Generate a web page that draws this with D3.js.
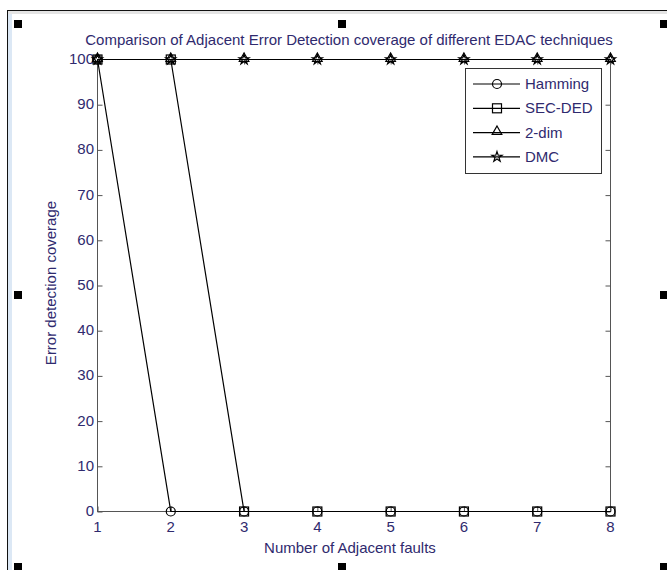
<!DOCTYPE html>
<html>
<head>
<meta charset="utf-8">
<script src="https://cdn.jsdelivr.net/npm/d3@7"></script>
<style>
  body { margin: 0; background: #fff; }
  svg { display: block; font-family: "Liberation Sans", Arial, sans-serif; }
</style>
</head>
<body>
<svg id="chart"></svg>
<script>
// data
var faults = [1, 2, 3, 4, 5, 6, 7, 8];
var hamming = [100, 0, 0, 0, 0, 0, 0, 0];
var secded = [100, 100, 0, 0, 0, 0, 0, 0];
var twoDim = [100, 100, 100, 100, 100, 100, 100, 100];
var dmc = [100, 100, 100, 100, 100, 100, 100, 100];
var seriesNames = ["Hamming", "SEC-DED", "2-dim", "DMC"];
var yTicks = [0, 10, 20, 30, 40, 50, 60, 70, 80, 90, 100];

var W = 667, H = 570;
var textColor = "#2f2a6e";
var fs = 15;
var svg = d3.select("#chart").attr("width", W).attr("height", H);

// window-ish frame around the figure
svg.append("rect").attr("x", 8).attr("y", 11).attr("width", 4).attr("height", H).attr("fill", "#dce8f5");
svg.append("rect").attr("x", 8).attr("y", 11).attr("width", W).attr("height", 3).attr("fill", "#e4e4e4");
svg.append("line").attr("x1", 7.5).attr("x2", 7.5).attr("y1", 10).attr("y2", H).attr("stroke", "#111");
svg.append("line").attr("x1", 7).attr("x2", W).attr("y1", 10.5).attr("y2", 10.5).attr("stroke", "#111");

// selection handles
[[14, 20], [338, 20], [660, 20], [14, 291], [660, 291], [14, 563], [338, 563], [660, 563]].forEach(function(p) {
  svg.append("rect").attr("x", p[0]).attr("y", p[1]).attr("width", 8).attr("height", 8).attr("fill", "#000");
});

var x = d3.scaleLinear().domain([1, 8]).range([97, 610]);
var y = d3.scaleLinear().domain([0, 100]).range([511, 59]);

var g = svg.append("g");

// axes box
g.append("rect")
  .attr("x", x(1) + 0.5).attr("y", y(100) + 0.5)
  .attr("width", x(8) - x(1)).attr("height", y(0) - y(100))
  .attr("fill", "none").attr("stroke", "#555");

var yAxis = g.append("g")
  .attr("transform", "translate(" + (x(1) + 0.5) + ",0.5)")
  .call(d3.axisRight(y).tickValues(yTicks).tickSize(5).tickFormat(""));
var yAxisR = g.append("g")
  .attr("transform", "translate(" + (x(8) + 0.5) + ",0.5)")
  .call(d3.axisLeft(y).tickValues(yTicks).tickSize(5).tickFormat(""));
var xAxis = g.append("g")
  .attr("transform", "translate(0.5," + (y(0) + 0.5) + ")")
  .call(d3.axisTop(x).tickValues(faults).tickSize(5).tickFormat(""));
var xAxisT = g.append("g")
  .attr("transform", "translate(0.5," + (y(100) + 0.5) + ")")
  .call(d3.axisBottom(x).tickValues(faults).tickSize(5).tickFormat(""));
[yAxis, yAxisR, xAxis, xAxisT].forEach(function(a) {
  a.select(".domain").remove();
  a.selectAll("line").attr("stroke", "#555");
});

// tick labels
g.append("g").selectAll("text")
  .data(yTicks)
  .join("text")
    .attr("x", x(1) - 3)
    .attr("y", d => y(d) + 5)
    .attr("text-anchor", "end")
    .attr("font-size", fs)
    .attr("fill", textColor)
    .text(d => d);
g.append("g").selectAll("text")
  .data(faults)
  .join("text")
    .attr("x", d => x(d) + 0.5)
    .attr("y", y(0) + 21)
    .attr("text-anchor", "middle")
    .attr("font-size", fs)
    .attr("fill", textColor)
    .text(d => d);

// markers
var star = d3.symbol().type(d3.symbolStar).size(32);
var tri = d3.symbol().type(d3.symbolTriangle).size(40);
function marker(sel, kind) {
  if (kind === 0) {
    sel.append("circle").attr("r", 4.5);
  } else if (kind === 1) {
    sel.append("rect").attr("x", -4.5).attr("y", -4.5).attr("width", 9).attr("height", 9);
  } else if (kind === 2) {
    sel.append("path").attr("d", tri()).attr("transform", "translate(0,-1)");
  } else {
    sel.append("path").attr("d", star());
  }
  sel.selectAll("*").attr("fill", "none").attr("stroke", "#000").attr("stroke-width", 1.2);
}

var line = d3.line().x((d, i) => x(faults[i]) + 0.5).y(d => y(d) + 0.5);
[hamming, secded, twoDim, dmc].forEach(function(vals, k) {
  var s = g.append("g");
  s.append("path")
    .datum(vals)
    .attr("fill", "none")
    .attr("stroke", "#000")
    .attr("stroke-width", 1.2)
    .attr("d", line);
  s.selectAll("g.m")
    .data(vals)
    .join("g")
      .attr("class", "m")
      .attr("transform", (d, i) => "translate(" + (x(faults[i]) + 0.5) + "," + (y(d) + 0.5) + ")")
      .each(function() { marker(d3.select(this), k); });
});

// legend
var lg = g.append("g");
lg.append("rect")
  .attr("x", 465.5).attr("y", 68.5).attr("width", 136).attr("height", 105)
  .attr("fill", "#fff").attr("stroke", "#333");
seriesNames.forEach(function(name, i) {
  var ly = 84 + i * 24.3;
  lg.append("line").attr("x1", 473).attr("x2", 520).attr("y1", ly).attr("y2", ly)
    .attr("stroke", "#000").attr("stroke-width", 1.2);
  var m = lg.append("g").attr("transform", "translate(497," + ly + ")");
  marker(m, i);
  lg.append("text").attr("x", 525).attr("y", ly + 5)
    .attr("font-size", fs).attr("fill", textColor).text(name);
});

// title and axis labels
svg.append("text")
  .attr("x", 349).attr("y", 45)
  .attr("text-anchor", "middle")
  .attr("font-size", fs)
  .attr("fill", textColor)
  .text("Comparison of Adjacent Error Detection coverage of different EDAC techniques");
svg.append("text")
  .attr("x", 350).attr("y", 553)
  .attr("text-anchor", "middle")
  .attr("font-size", fs)
  .attr("fill", textColor)
  .text("Number of Adjacent faults");
svg.append("text")
  .attr("transform", "translate(56,283) rotate(-90)")
  .attr("text-anchor", "middle")
  .attr("font-size", fs)
  .attr("fill", textColor)
  .text("Error detection coverage");
</script>
</body>
</html>
